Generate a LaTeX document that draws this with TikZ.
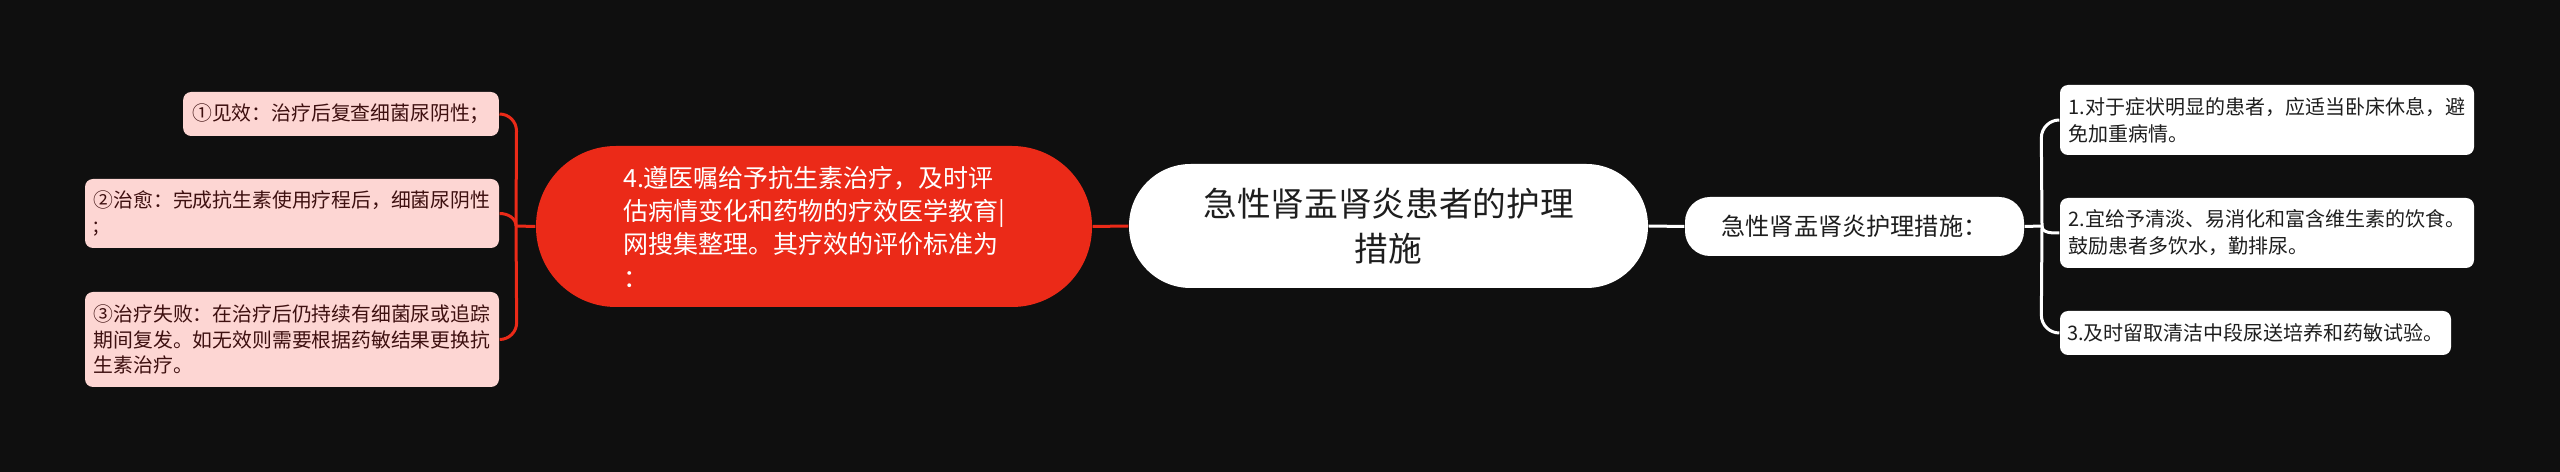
\documentclass[tikz,border=0pt]{standalone}
\usepackage{fontspec}
\setmainfont{Noto Sans CJK SC}
\usetikzlibrary{calc}
\definecolor{bgc}{HTML}{0F0F0F}
\definecolor{redc}{HTML}{EB2A18}
\definecolor{pinkc}{HTML}{FDD6D3}
\definecolor{pinktxt}{HTML}{3E1010}
\definecolor{darktxt}{HTML}{1E1E1E}
\begin{document}
\begin{tikzpicture}[x=0.3pt,y=-0.3pt,
  rootbox/.style={fill=white, text=darktxt, rounded corners=18.5pt,
    minimum width=155.7pt, minimum height=37.2pt, inner sep=0pt, align=center,
    font=\fontsize{10.1pt}{13.5pt}\selectfont},
  redbox/.style={fill=redc, text=white, rounded corners=24pt,
    minimum width=166.8pt, minimum height=48.3pt, inner sep=0pt, align=left,
    font=\fontsize{7.5pt}{10pt}\selectfont},
  subbox/.style={fill=white, text=darktxt, rounded corners=7.5pt,
    minimum width=101.7pt, minimum height=17.7pt, inner sep=0pt, align=center,
    font=\fontsize{7.25pt}{9pt}\selectfont},
  leafw/.style={fill=white, text=darktxt, rounded corners=2.4pt,
    inner sep=0pt, align=left, font=\fontsize{6pt}{8.1pt}\selectfont},
  leafp/.style={fill=pinkc, text=pinktxt, rounded corners=2.4pt,
    inner sep=0pt, align=left, font=\fontsize{5.95pt}{7.7pt}\selectfont},
  redline/.style={draw=redc, line width=0.9pt},
  whiteline/.style={draw=white, line width=0.9pt}]
\fill[bgc] (0,0) rectangle (2560,472);
\useasboundingbox (0,0) rectangle (2560,472);

% nodes
\node[rootbox] (root) at (1388.5,226) {急性肾盂肾炎患者的护理\\措施};
\node[redbox] (red) at (814,226.5) {4.遵医嘱给予抗生素治疗，及时评\\估病情变化和药物的疗效医学教育|\\网搜集整理。其疗效的评价标准为\\：};
\node[subbox] (sub) at (1854.5,226.5) {急性肾盂肾炎护理措施：};

\node[leafw, minimum width=124.2pt, minimum height=21pt] (r1) at (2267,120)
  {1.对于症状明显的患者，应适当卧床休息，避\\免加重病情。};
\node[leafw, minimum width=124.2pt, minimum height=21pt] (r2) at (2267,233)
  {2.宜给予清淡、易消化和富含维生素的饮食。\\鼓励患者多饮水，勤排尿。};
\node[leafw, minimum width=117.3pt, minimum height=13.2pt] (r3) at (2255.5,333)
  {3.及时留取清洁中段尿送培养和药敏试验。};

\node[leafp, minimum width=94.7pt, minimum height=13.2pt] (l1) at (341,114)
  {①见效：治疗后复查细菌尿阴性；};
\node[leafp, minimum width=124.2pt, minimum height=20.7pt] (l2) at (292,213.5)
  {②治愈：完成抗生素使用疗程后，细菌尿阴性\\;};
\node[leafp, minimum width=124.2pt, minimum height=28.5pt] (l3) at (292,339.5)
  {③治疗失败：在治疗后仍持续有细菌尿或追踪\\期间复发。如无效则需要根据药敏结果更换抗\\生素治疗。};

% junctions
\coordinate (jl) at (516,226);
\coordinate (jr) at (2042,226);

% connectors
\draw[redline] (root.west) -- (red.east);
\draw[whiteline] (root.east) -- (sub.west);

\draw[redline] (red.west) -- (jl);
\draw[redline] (l1.east) to[out=0,in=90] ($(l1.east)+(17,17)$) -- (jl);
\draw[redline] (l3.east) to[out=0,in=-90] ($(l3.east)+(17,-17)$) -- (jl);
\draw[redline] (l2.east) to[out=0,in=90] (jl);

\draw[whiteline] (sub.east) -- (jr);
\draw[whiteline] (r1.west) to[out=180,in=90] ($(r1.west)+(-18,18)$) -- (jr);
\draw[whiteline] (r3.west) to[out=180,in=-90] ($(r3.west)+(-18,-18)$) -- (jr);
\draw[whiteline] (r2.west) to[out=180,in=-90] (jr);
\end{tikzpicture}
\end{document}
